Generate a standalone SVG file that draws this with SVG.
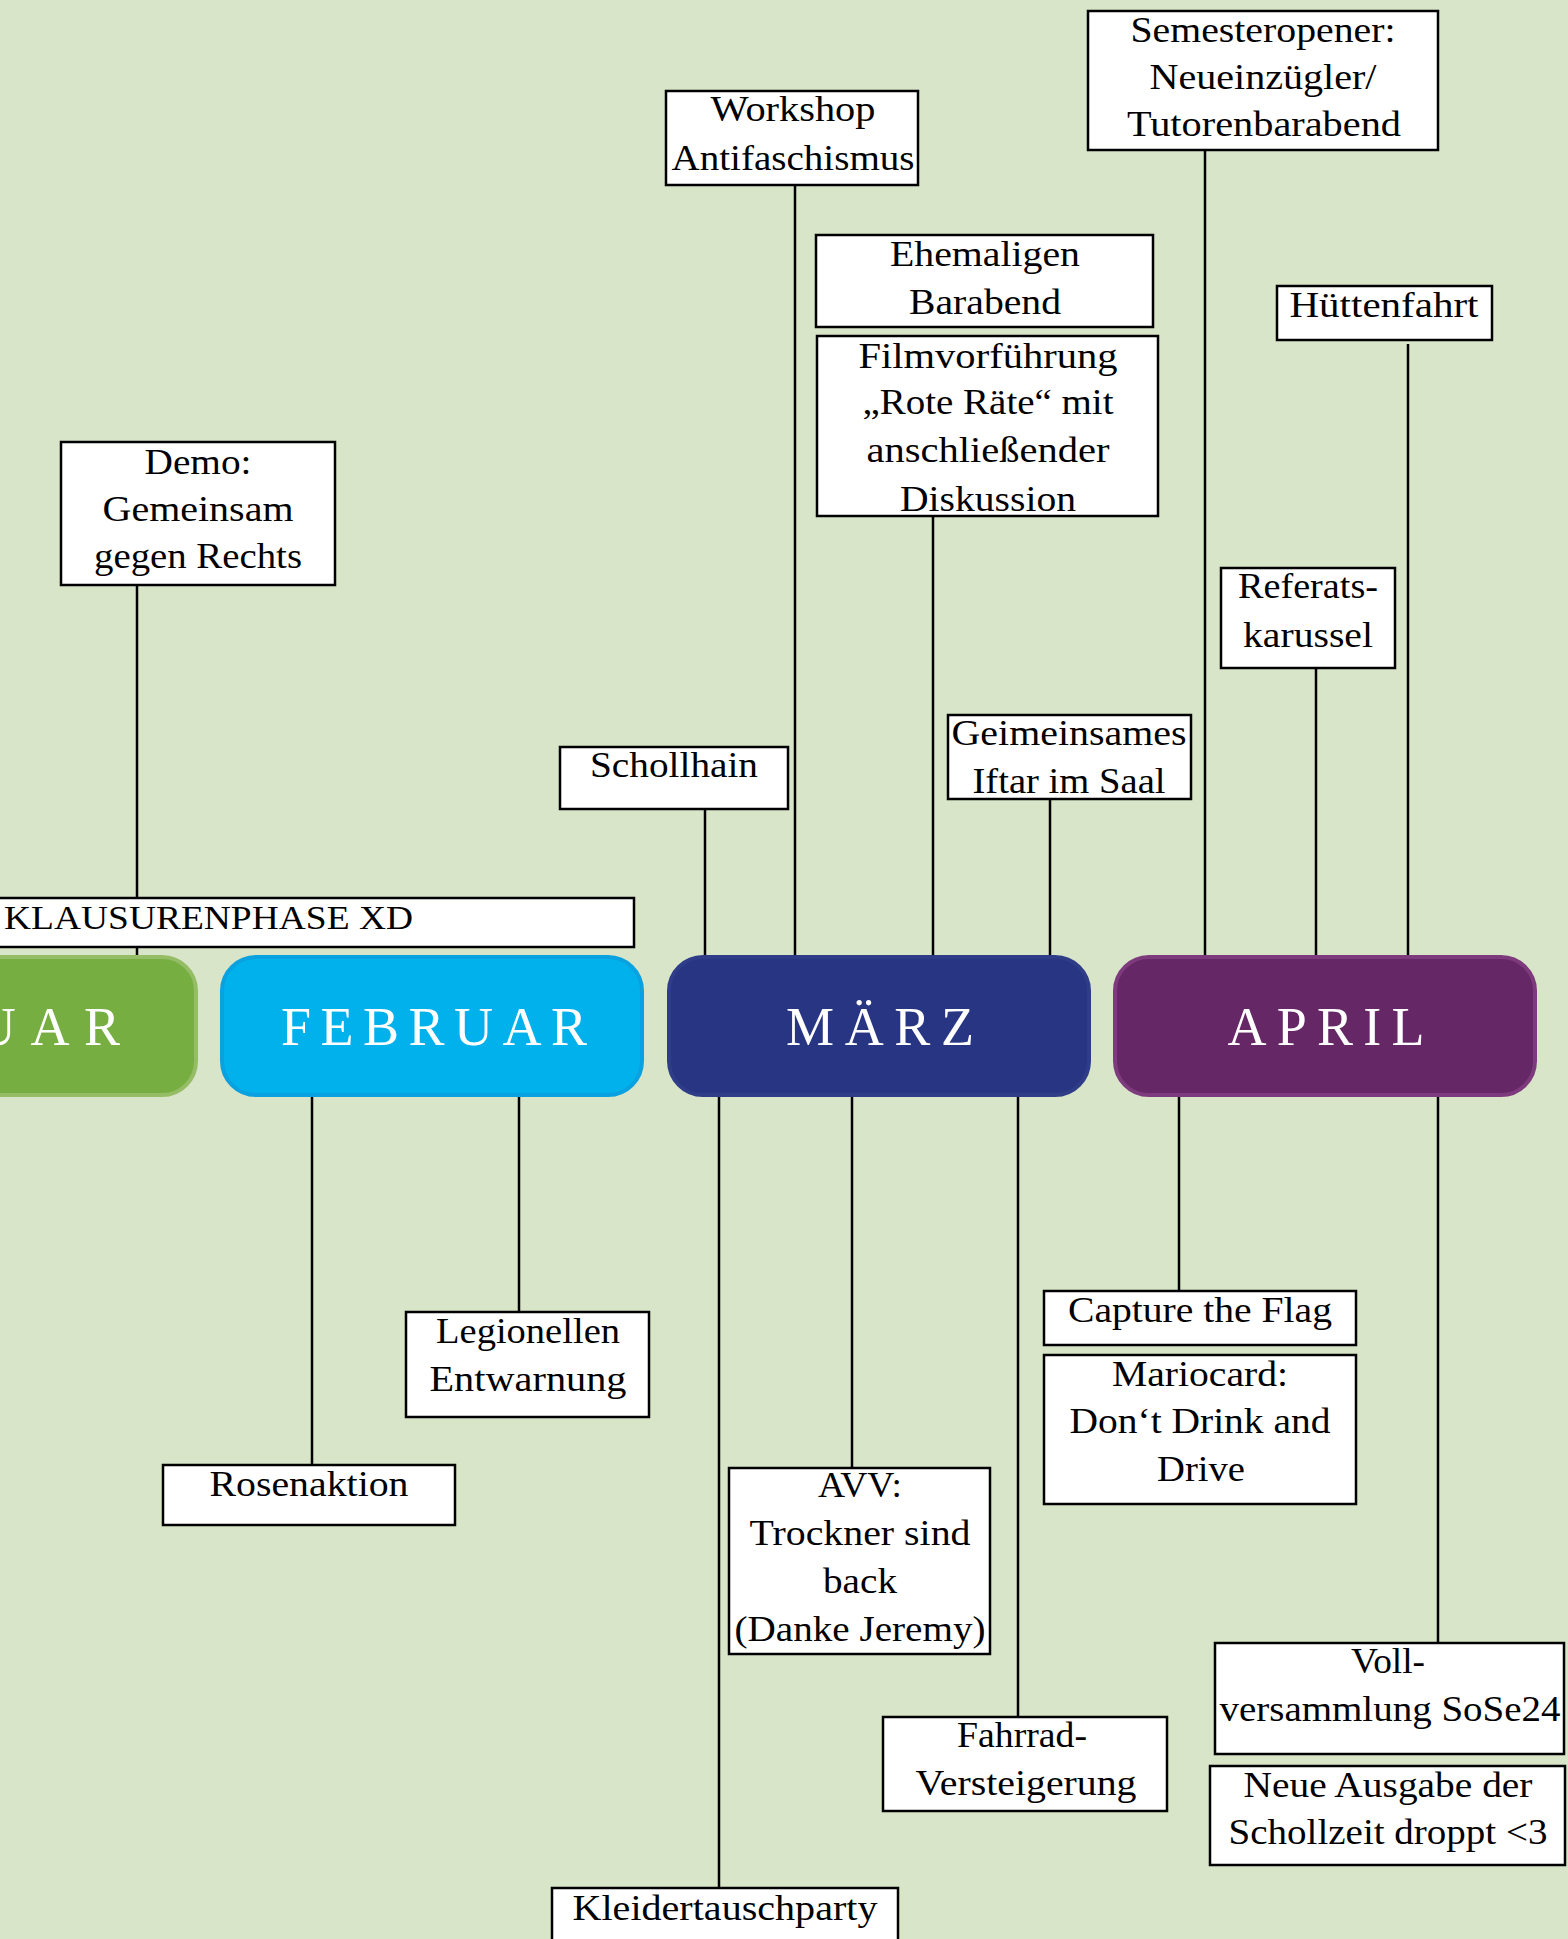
<svg xmlns="http://www.w3.org/2000/svg" width="1568" height="1939" viewBox="0 0 1568 1939">
<style>
.bg{fill:#D9E5C9}
.box{fill:#fff;stroke:#000;stroke-width:2.5}
.t{font-family:"Liberation Serif","Times New Roman",serif;font-size:36px;fill:#000;text-anchor:middle}
.k{font-family:"Liberation Serif","Times New Roman",serif;font-size:34px;fill:#000}
.m{font-family:"Liberation Serif","Times New Roman",serif;font-size:54px;fill:#fff;text-anchor:middle}
.c line{stroke:#000;stroke-width:2.5}
</style>
<rect class="bg" x="0" y="0" width="1568" height="1939"/>
<g id="connectors" class="c">
<line x1="137" y1="585" x2="137" y2="956"/>
<line x1="705" y1="809" x2="705" y2="957"/>
<line x1="795" y1="185" x2="795" y2="956"/>
<line x1="933" y1="516" x2="933" y2="956"/>
<line x1="1050" y1="799" x2="1050" y2="959"/>
<line x1="1205" y1="150" x2="1205" y2="958"/>
<line x1="1316" y1="668" x2="1316" y2="956"/>
<line x1="1408" y1="344" x2="1408" y2="956"/>
<line x1="312" y1="1096" x2="312" y2="1465"/>
<line x1="519" y1="1096" x2="519" y2="1312"/>
<line x1="719" y1="1096" x2="719" y2="1888"/>
<line x1="852" y1="1096" x2="852" y2="1468"/>
<line x1="1018" y1="1096" x2="1018" y2="1717"/>
<line x1="1179" y1="1096" x2="1179" y2="1291"/>
<line x1="1438" y1="1096" x2="1438" y2="1643"/>
</g>
<g id="januar">
<rect x="-225" y="957" width="421" height="138" rx="34" fill="#76AE41" stroke="#95BD65" stroke-width="4"/>
<text class="m" x="-23" y="1045" textLength="286" lengthAdjust="spacing">JANUAR</text>
</g>
<g id="februar">
<rect x="222" y="957" width="420" height="138" rx="34" fill="#00B1EB" stroke="#09A1DF" stroke-width="4"/>
<text class="m" x="434" y="1045" textLength="306" lengthAdjust="spacing">FEBRUAR</text>
</g>
<g id="maerz">
<rect x="669" y="957" width="420" height="138" rx="34" fill="#283583" stroke="#2F3C87" stroke-width="4"/>
<text class="m" x="880" y="1045" textLength="188" lengthAdjust="spacing">MÄRZ</text>
</g>
<g id="april">
<rect x="1115" y="957" width="420" height="138" rx="34" fill="#662766" stroke="#7D3A7D" stroke-width="4"/>
<text class="m" x="1326" y="1045" textLength="197" lengthAdjust="spacing">APRIL</text>
</g>
<g id="klausurenphase">
<rect class="box" x="-5" y="898" width="639" height="49"/>
<text class="k" x="4" y="929" textLength="409" lengthAdjust="spacingAndGlyphs">KLAUSURENPHASE XD</text>
</g>
<g id="demo">
<rect class="box" x="61" y="442" width="274" height="143"/>
<text class="t" x="198" y="474" textLength="107" lengthAdjust="spacingAndGlyphs">Demo:</text>
<text class="t" x="198" y="521" textLength="191" lengthAdjust="spacingAndGlyphs">Gemeinsam</text>
<text class="t" x="198" y="568" textLength="208" lengthAdjust="spacingAndGlyphs">gegen Rechts</text>
</g>
<g id="schollhain">
<rect class="box" x="560" y="747" width="228" height="62"/>
<text class="t" x="674" y="777" textLength="168" lengthAdjust="spacingAndGlyphs">Schollhain</text>
</g>
<g id="workshop">
<rect class="box" x="666" y="91" width="252" height="94"/>
<text class="t" x="793" y="121" textLength="165" lengthAdjust="spacingAndGlyphs">Workshop</text>
<text class="t" x="793" y="170" textLength="243" lengthAdjust="spacingAndGlyphs">Antifaschismus</text>
</g>
<g id="ehemaligen">
<rect class="box" x="816" y="235" width="337" height="92"/>
<text class="t" x="985" y="266" textLength="190" lengthAdjust="spacingAndGlyphs">Ehemaligen</text>
<text class="t" x="985" y="314" textLength="152" lengthAdjust="spacingAndGlyphs">Barabend</text>
</g>
<g id="film">
<rect class="box" x="817" y="336" width="341" height="180"/>
<text class="t" x="988" y="368" textLength="259" lengthAdjust="spacingAndGlyphs">Filmvorführung</text>
<text class="t" x="988" y="414" textLength="251" lengthAdjust="spacingAndGlyphs">„Rote Räte“ mit</text>
<text class="t" x="988" y="462" textLength="243" lengthAdjust="spacingAndGlyphs">anschließender</text>
<text class="t" x="988" y="511" textLength="176" lengthAdjust="spacingAndGlyphs">Diskussion</text>
</g>
<g id="semesteropener">
<rect class="box" x="1088" y="11" width="350" height="139"/>
<text class="t" x="1263" y="42" textLength="265" lengthAdjust="spacingAndGlyphs">Semesteropener:</text>
<text class="t" x="1263" y="89" textLength="227" lengthAdjust="spacingAndGlyphs">Neueinzügler/</text>
<text class="t" x="1264" y="136" textLength="274" lengthAdjust="spacingAndGlyphs">Tutorenbarabend</text>
</g>
<g id="huettenfahrt">
<rect class="box" x="1277" y="286" width="215" height="54"/>
<text class="t" x="1384" y="317" textLength="189" lengthAdjust="spacingAndGlyphs">Hüttenfahrt</text>
</g>
<g id="referatskarussel">
<rect class="box" x="1221" y="568" width="174" height="100"/>
<text class="t" x="1308" y="598" textLength="140" lengthAdjust="spacingAndGlyphs">Referats-</text>
<text class="t" x="1308" y="647" textLength="130" lengthAdjust="spacingAndGlyphs">karussel</text>
</g>
<g id="iftar">
<rect class="box" x="948" y="715" width="243" height="84"/>
<text class="t" x="1069" y="745" textLength="235" lengthAdjust="spacingAndGlyphs">Geimeinsames</text>
<text class="t" x="1069" y="793" textLength="193" lengthAdjust="spacingAndGlyphs">Iftar im Saal</text>
</g>
<g id="legionellen">
<rect class="box" x="406" y="1312" width="243" height="105"/>
<text class="t" x="528" y="1343" textLength="184" lengthAdjust="spacingAndGlyphs">Legionellen</text>
<text class="t" x="528" y="1391" textLength="197" lengthAdjust="spacingAndGlyphs">Entwarnung</text>
</g>
<g id="rosenaktion">
<rect class="box" x="163" y="1465" width="292" height="60"/>
<text class="t" x="309" y="1496" textLength="199" lengthAdjust="spacingAndGlyphs">Rosenaktion</text>
</g>
<g id="kleidertauschparty">
<rect class="box" x="552" y="1888" width="346" height="70"/>
<text class="t" x="725" y="1920" textLength="305" lengthAdjust="spacingAndGlyphs">Kleidertauschparty</text>
</g>
<g id="avv">
<rect class="box" x="729" y="1468" width="261" height="186"/>
<text class="t" x="860" y="1497" textLength="84" lengthAdjust="spacingAndGlyphs">AVV:</text>
<text class="t" x="860" y="1545" textLength="221" lengthAdjust="spacingAndGlyphs">Trockner sind</text>
<text class="t" x="860" y="1593" textLength="74" lengthAdjust="spacingAndGlyphs">back</text>
<text class="t" x="860" y="1641" textLength="251" lengthAdjust="spacingAndGlyphs">(Danke Jeremy)</text>
</g>
<g id="fahrrad">
<rect class="box" x="883" y="1717" width="284" height="94"/>
<text class="t" x="1022" y="1747" textLength="130" lengthAdjust="spacingAndGlyphs">Fahrrad-</text>
<text class="t" x="1026" y="1795" textLength="221" lengthAdjust="spacingAndGlyphs">Versteigerung</text>
</g>
<g id="capture">
<rect class="box" x="1044" y="1291" width="312" height="54"/>
<text class="t" x="1200" y="1322" textLength="264" lengthAdjust="spacingAndGlyphs">Capture the Flag</text>
</g>
<g id="mariocard">
<rect class="box" x="1044" y="1355" width="312" height="149"/>
<text class="t" x="1200" y="1386" textLength="176" lengthAdjust="spacingAndGlyphs">Mariocard:</text>
<text class="t" x="1200" y="1433" textLength="261" lengthAdjust="spacingAndGlyphs">Don‘t Drink and</text>
<text class="t" x="1201" y="1481" textLength="88" lengthAdjust="spacingAndGlyphs">Drive</text>
</g>
<g id="vollversammlung">
<rect class="box" x="1215" y="1643" width="349" height="111"/>
<text class="t" x="1388" y="1673" textLength="74" lengthAdjust="spacingAndGlyphs">Voll-</text>
<text class="t" x="1390" y="1721" textLength="341" lengthAdjust="spacingAndGlyphs">versammlung SoSe24</text>
</g>
<g id="schollzeit">
<rect class="box" x="1210" y="1766" width="355" height="99"/>
<text class="t" x="1388" y="1797" textLength="289" lengthAdjust="spacingAndGlyphs">Neue Ausgabe der</text>
<text class="t" x="1388" y="1844" textLength="319" lengthAdjust="spacingAndGlyphs">Schollzeit droppt &lt;3</text>
</g>
</svg>
